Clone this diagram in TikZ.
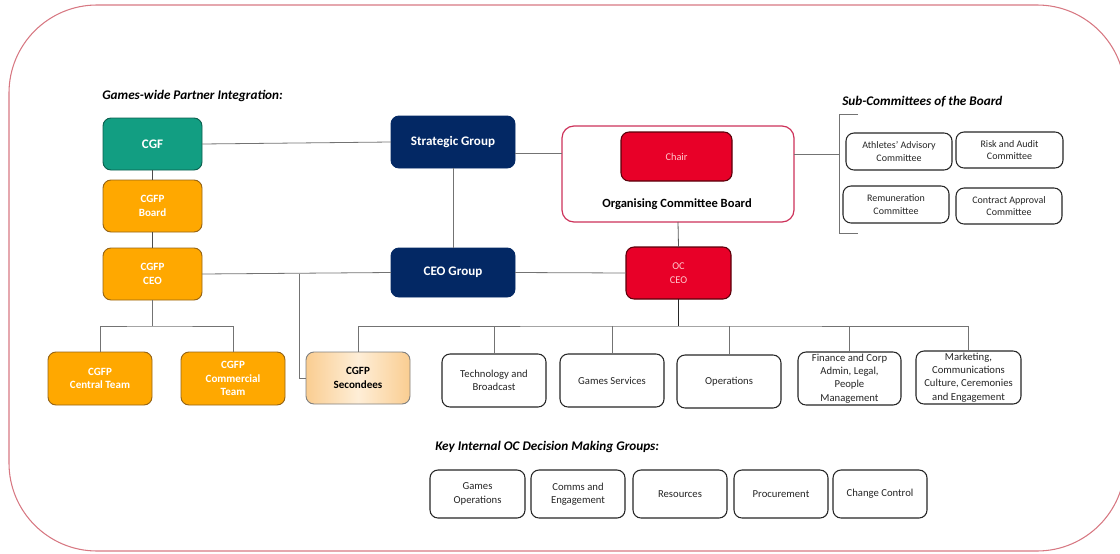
\documentclass[tikz,border=0pt]{standalone}
\usepackage{fontspec}
\setmainfont{Carlito}
\usetikzlibrary{calc}
\definecolor{cteal}{RGB}{18,158,130}
\definecolor{corange}{RGB}{255,168,0}
\definecolor{corangeb}{RGB}{150,100,20}
\definecolor{cnavy}{RGB}{3,40,100}
\definecolor{cred}{RGB}{232,0,40}
\definecolor{credb}{RGB}{90,0,10}
\definecolor{cpinktext}{RGB}{255,200,205}
\definecolor{cframe}{RGB}{215,120,130}
\definecolor{cocb}{RGB}{205,50,90}
\definecolor{cline}{RGB}{115,115,115}
\definecolor{csecl}{RGB}{250,205,145}
\definecolor{csecm}{RGB}{254,238,215}
\tikzset{
  base/.style={rectangle, rounded corners=6pt, align=center, inner sep=0pt, outer sep=0pt},
  tealbox/.style={base, fill=cteal, draw=cteal!60!black, line width=0.7pt, text=white, font=\fontsize{9.8}{11}\selectfont\bfseries},
  orangebox/.style={base, fill=corange, draw=corangeb, line width=0.7pt, text=white, font=\fontsize{8.3}{10}\selectfont\bfseries},
  navybox/.style={base, fill=cnavy, draw=cnavy, line width=0.7pt, text=white, font=\fontsize{9.8}{11}\selectfont\bfseries},
  redbox/.style={base, fill=cred, draw=credb, line width=0.8pt, text=cpinktext, font=\fontsize{7.8}{10}\selectfont},
  secbox/.style={base, left color=csecl, right color=csecl, middle color=csecm, draw=black!50, line width=0.7pt, text=black, font=\fontsize{8.3}{10.5}\selectfont\bfseries},
  whitebox/.style={base, fill=white, draw=black!85, line width=0.8pt, text=black!85, font=\fontsize{8}{10}\selectfont},
  subbox/.style={base, fill=white, draw=black!85, line width=0.8pt, text=black!85, font=\fontsize{7.5}{9.5}\selectfont},
  conn/.style={draw=cline, line width=0.6pt},
  title/.style={anchor=west, inner sep=0pt, font=\fontsize{9.9}{11}\selectfont\bfseries\itshape}
}
\begin{document}
\begin{tikzpicture}[x=0.75pt,y=-0.75pt]
\useasboundingbox (0,0) rectangle (1120,553);
% outer frame
\draw[cframe, line width=0.8pt, rounded corners=66pt] (9,5) rectangle (1125,551);

% titles
\node[title] (t1) at (102,96) {Games-wide Partner Integration:};
\node[title] (t2) at (842,102) {Sub-Committees of the Board};
\node[title] (t3) at (435,447) {Key Internal OC Decision Making Groups:};

% left column
\node[tealbox, minimum width=74.25pt, minimum height=39pt] (cgf) at (152.5,144) {CGF};
\node[orangebox, minimum width=74.25pt, minimum height=39pt] (board) at (152.5,206) {CGFP\\Board};
\node[orangebox, minimum width=74.25pt, minimum height=39pt] (cgfpceo) at (152.5,274) {CGFP\\CEO};

% navy
\node[navybox, minimum width=93pt, minimum height=39pt] (strat) at (453,142) {Strategic Group};
\node[navybox, minimum width=93pt, minimum height=36.75pt] (ceog) at (453,272.5) {CEO Group};

% OC board
\node[base, rounded corners=9pt, draw=cocb, line width=0.9pt, fill=white, minimum width=174pt, minimum height=72pt] (ocb) at (678,174) {};
\node[redbox, minimum width=83.25pt, minimum height=36.75pt] (chair) at (676.5,156.5) {Chair};
\node[inner sep=0pt, font=\fontsize{9.4}{11}\selectfont\bfseries] (ocbt) at (677,204) {Organising Committee Board};
\node[redbox, minimum width=78.75pt, minimum height=39pt] (occeo) at (678.5,273) {OC\\CEO};

% sub-committees
\node[subbox, minimum width=79.5pt, minimum height=27.75pt] (ath) at (899,151.5) {Athletes’ Advisory\\Committee};
\node[subbox, minimum width=80.25pt, minimum height=27pt] (risk) at (1009.5,150) {Risk and Audit\\Committee};
\node[subbox, minimum width=79.5pt, minimum height=27.75pt] (rem) at (896,204.5) {Remuneration\\Committee};
\node[subbox, minimum width=79.5pt, minimum height=27pt] (con) at (1009,206) {Contract Approval\\Committee};
\coordinate (brt) at (858,114);
\coordinate (brm) at (839,154);
\coordinate (brb) at (858,233);
\draw[draw=black!55, line width=0.6pt] (brt) -| (brm) |- (brb);
\draw[conn] (ocb.east |- brm) -- (brm);

% bottom row left
\node[orangebox, minimum width=78pt, minimum height=39.75pt] (central) at (100,378.5) {CGFP\\Central Team};
\node[orangebox, minimum width=78pt, minimum height=39.75pt] (commercial) at (233,378.5) {CGFP\\Commercial\\Team};
\node[secbox, minimum width=78pt, minimum height=39pt] (second) at (358,378) {CGFP\\Secondees};

% OC departments
\node[whitebox, minimum width=78pt, minimum height=39.75pt] (tech) at (494,380.5) {Technology and\\Broadcast};
\node[whitebox, minimum width=78pt, minimum height=39.75pt] (gserv) at (612,380.5) {Games Services};
\node[whitebox, minimum width=78pt, minimum height=39.75pt] (ops) at (729,381.5) {Operations};
\node[whitebox, minimum width=77.25pt, minimum height=39.75pt] (fin) at (849.5,378.5) {Finance and Corp\\Admin, Legal,\\People\\Management};
\node[whitebox, minimum width=78.75pt, minimum height=39.75pt] (mkt) at (968.5,377.5) {Marketing,\\Communications\\Culture, Ceremonies\\and Engagement};

% key groups
\node[whitebox, minimum width=71.25pt, minimum height=36pt] (gops) at (477.5,494) {Games\\Operations};
\node[whitebox, minimum width=70.5pt, minimum height=36pt] (comms) at (578,494) {Comms and\\Engagement};
\node[whitebox, minimum width=70.5pt, minimum height=36pt] (res) at (680,494) {Resources};
\node[whitebox, minimum width=70.5pt, minimum height=36pt] (proc) at (781,494) {Procurement};
\node[whitebox, minimum width=70.5pt, minimum height=36pt] (chg) at (880,494) {Change Control};

% connectors
\draw[conn] (cgf.east) -- (strat.west);
\draw[conn] ([yshift=-8.25pt]strat.east) -- ([yshift=-8.25pt]strat.east -| ocb.west);
\draw[conn] (strat.south) -- (ceog.north);
\draw[conn, draw=black!70] (cgf.south) -- (board.north);
\draw[conn, draw=black!70] (board.south) -- (cgfpceo.north);
\draw[conn] (cgfpceo.east) -- (ceog.west);
\draw[conn] (ceog.east) -- (occeo.west);
\draw[conn, draw=black!65] (ocb.south) -- (occeo.north);
\coordinate (j) at (299,273.5);
\draw[conn] (j) |- (second.west);
\coordinate (cb) at (152.5,326);
\draw[conn] (cgfpceo.south) -- (cb);
\draw[conn] (central.north) |- (cb) -| (commercial.north);
\coordinate (ob) at (678.5,326);
\draw[draw=black!85, line width=1pt] (occeo.south) -- (ob);
\draw[conn] (second.north) |- (ob) -| (mkt.north);
\draw[conn] (tech.north) -- (tech.north |- ob);
\draw[conn] (gserv.north) -- (gserv.north |- ob);
\draw[conn] (ops.north) -- (ops.north |- ob);
\draw[conn] (fin.north) -- (fin.north |- ob);
\end{tikzpicture}
\end{document}
